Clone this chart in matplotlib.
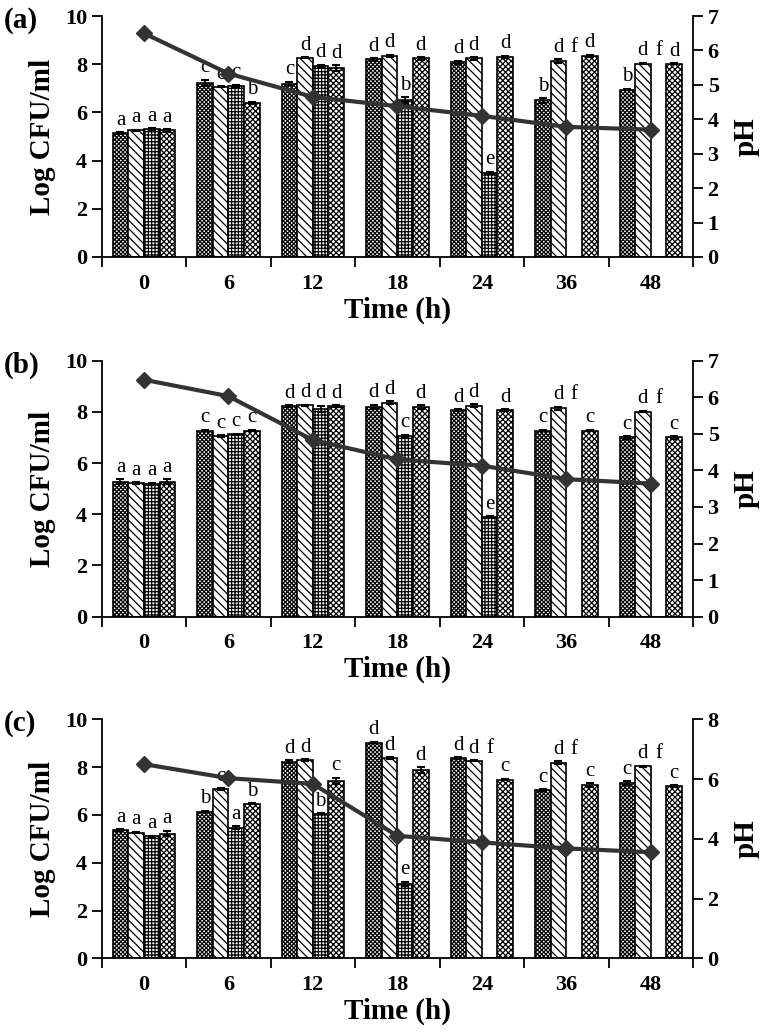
import numpy as np
import matplotlib.pyplot as plt

nan = np.nan

# time groups and series
times = ['0', '6', '12', '18', '24', '36', '48']

# panel (a)
cfu_a = np.array([[5.15, 5.25, 5.30, 5.25],
                  [7.23, 7.07, 7.10, 6.40],
                  [7.20, 8.27, 7.93, 7.83],
                  [8.20, 8.34, 6.50, 8.24],
                  [8.08, 8.24, 3.49, 8.31],
                  [6.50, 8.13, nan, 8.35],
                  [6.95, 8.03, nan, 8.02]])
err_a = np.array([[0.03, 0.03, 0.05, 0.05],
                  [0.12, 0.03, 0.05, 0.05],
                  [0.08, 0.03, 0.05, 0.12],
                  [0.05, 0.05, 0.12, 0.05],
                  [0.06, 0.05, 0.05, 0.05],
                  [0.10, 0.08, nan, 0.05],
                  [0.03, 0.03, nan, 0.03]])
letters_a = ['aaaa', 'cccb', 'cddd', 'ddbd', 'dded', 'bdfd', 'bdfd']
ph_a = [6.50, 5.33, 4.65, 4.38, 4.10, 3.78, 3.70]

# panel (b)
cfu_b = np.array([[5.28, 5.22, 5.18, 5.28],
                  [7.27, 7.06, 7.12, 7.27],
                  [8.23, 8.25, 8.12, 8.23],
                  [8.20, 8.36, 7.06, 8.18],
                  [8.08, 8.24, 3.90, 8.07],
                  [7.27, 8.14, nan, 7.27],
                  [7.00, 8.01, nan, 7.00]])
err_b = np.array([[0.08, 0.03, 0.05, 0.08],
                  [0.03, 0.03, 0.03, 0.03],
                  [0.03, 0.03, 0.12, 0.03],
                  [0.08, 0.05, 0.05, 0.08],
                  [0.03, 0.05, 0.03, 0.03],
                  [0.03, 0.06, nan, 0.03],
                  [0.05, 0.03, nan, 0.05]])
letters_b = ['aaaa', 'cccc', 'dddd', 'ddcd', 'dded', 'cdfc', 'cdfc']
ph_b = [6.48, 6.03, 4.83, 4.30, 4.13, 3.76, 3.64]

# panel (c)
cfu_c = np.array([[5.35, 5.26, 5.10, 5.22],
                  [6.14, 7.08, 5.46, 6.47],
                  [8.22, 8.30, 6.05, 7.43],
                  [9.03, 8.38, 3.12, 7.88],
                  [8.37, 8.27, nan, 7.48],
                  [7.05, 8.18, nan, 7.25],
                  [7.32, 8.03, nan, 7.20]])
err_c = np.array([[0.04, 0.03, 0.03, 0.12],
                  [0.03, 0.03, 0.06, 0.03],
                  [0.06, 0.03, 0.03, 0.12],
                  [0.03, 0.03, 0.08, 0.12],
                  [0.05, 0.03, nan, 0.03],
                  [0.03, 0.07, nan, 0.07],
                  [0.08, 0.03, nan, 0.05]])
letters_c = ['aaaa', 'bcab', 'ddbc', 'dded', 'ddfc', 'cdfc', 'cdfc']
ph_c = [6.50, 6.03, 5.84, 4.10, 3.88, 3.68, 3.55]

plt.rcParams['font.family'] = 'Liberation Serif'
plt.rcParams['hatch.linewidth'] = 0.9

hatches = ['xxxxxxxx', '\\\\\\\\', '+++++', 'xxxxxx']
width = 0.185

fig = plt.figure(figsize=(7.79, 10.35), dpi=100)


def draw_panel(rect, cfu, err, letters, ph, ph_max, ph_step, tag):
    ax = fig.add_axes(rect)
    x = np.arange(len(times))
    for k in range(4):
        pos = x + (k - 1.5) * width
        ax.bar(pos, np.nan_to_num(cfu[:, k]), width, color='white', edgecolor='black',
               hatch=hatches[k], linewidth=1.2, zorder=2)
        ax.errorbar(pos, cfu[:, k], yerr=err[:, k], fmt='none', ecolor='black',
                    elinewidth=1.2, capsize=3, capthick=1.5, zorder=3)
    # significance letters
    for i in range(len(times)):
        tops = cfu[i] + np.nan_to_num(err[i])
        for k in range(4):
            y = tops[k] if not np.isnan(tops[k]) else tops[1]
            ax.text(x[i] + (k - 1.5) * width, y + 0.1, letters[i][k], ha='center',
                    va='bottom', fontsize=15, zorder=5)
    ax.set_xlim(-0.5, 6.5)
    ax.set_ylim(0, 10)
    ax.set_yticks(np.arange(0, 11, 2))
    ax.set_xticks(np.arange(-0.5, 7, 1))
    ax.set_xticklabels([])
    ax.set_xticks(x, minor=True)
    ax.set_xticklabels(times, minor=True)
    ax.tick_params(axis='x', which='major', direction='out', length=7, width=1.3)
    ax.tick_params(axis='x', which='minor', length=0, pad=12, labelsize=16)
    ax.tick_params(axis='y', direction='out', length=7, width=1.3, labelsize=16)
    for lab in ax.get_xticklabels(minor=True) + ax.get_yticklabels():
        lab.set_fontweight('bold')
    ax.spines['top'].set_visible(False)
    ax.spines['right'].set_visible(False)
    for s in ['left', 'bottom']:
        ax.spines[s].set_linewidth(1.3)
    ax.set_ylabel('Log CFU/ml', fontsize=21, fontweight='bold', labelpad=6)
    ax.set_xlabel('Time (h)', fontsize=21, fontweight='bold', labelpad=2)

    ax2 = ax.twinx()
    ax2.plot(x, ph, color='#333333', linewidth=3, marker='D', markersize=8, zorder=4)
    ax2.set_ylim(0, ph_max)
    ax2.set_yticks(np.arange(0, ph_max + 0.1, ph_step))
    ax2.tick_params(axis='y', direction='out', length=7, width=1.3, labelsize=16)
    for lab in ax2.get_yticklabels():
        lab.set_fontweight('bold')
    for s in ['top', 'left', 'bottom']:
        ax2.spines[s].set_visible(False)
    ax2.spines['right'].set_linewidth(1.3)
    ax2.set_ylabel('pH', fontsize=21, fontweight='bold', labelpad=10)
    fig.text(0.005, rect[1] + rect[3] - 0.004, tag, fontsize=21, fontweight='bold',
             ha='left', va='center')


draw_panel([0.1305, 0.7517, 0.7591, 0.2328], cfu_a, err_a, letters_a, ph_a, 7, 1, '(a)')
draw_panel([0.1305, 0.4042, 0.7591, 0.2473], cfu_b, err_b, letters_b, ph_b, 7, 1, '(b)')
draw_panel([0.1305, 0.0741, 0.7591, 0.2309], cfu_c, err_c, letters_c, ph_c, 8, 2, '(c)')

fig.savefig('out.png', dpi=100)
